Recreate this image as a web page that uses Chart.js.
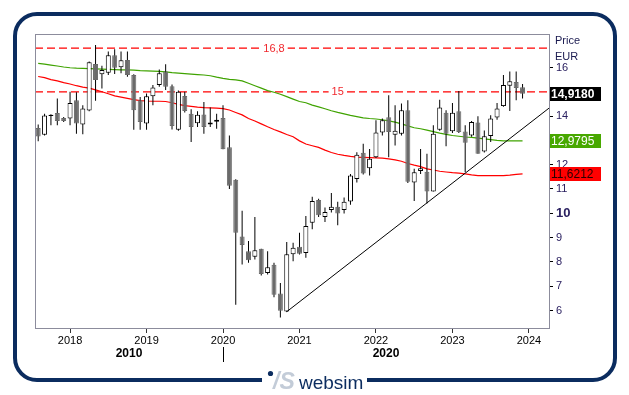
<!DOCTYPE html>
<html><head><meta charset="utf-8">
<script src="https://cdn.jsdelivr.net/npm/chart.js@4.4.1/dist/chart.umd.min.js"></script>
<style>html,body{margin:0;padding:0;background:#fff;overflow:hidden}canvas{display:block}</style>
</head><body><canvas id="c" width="629" height="395"></canvas>
<script>
// ---------- data ----------
const months = [
 '2017-08','2017-09','2017-10','2017-11','2017-12',
 '2018-01','2018-02','2018-03','2018-04','2018-05','2018-06','2018-07','2018-08','2018-09','2018-10','2018-11','2018-12',
 '2019-01','2019-02','2019-03','2019-04','2019-05','2019-06','2019-07','2019-08','2019-09','2019-10','2019-11','2019-12',
 '2020-01','2020-02','2020-03','2020-04','2020-05','2020-06','2020-07','2020-08','2020-09','2020-10','2020-11','2020-12',
 '2021-01','2021-02','2021-03','2021-04','2021-05','2021-06','2021-07','2021-08','2021-09','2021-10','2021-11','2021-12',
 '2022-01','2022-02','2022-03','2022-04','2022-05','2022-06','2022-07','2022-08','2022-09','2022-10','2022-11','2022-12',
 '2023-01','2023-02','2023-03','2023-04','2023-05','2023-06','2023-07','2023-08','2023-09','2023-10','2023-11','2023-12'
];
const openP = [
 13.51,13.23,14.00,14.13,13.92,
 13.90,14.65,13.65,14.23,16.14,15.72,15.78,16.50,16.01,16.31,15.69,14.65,
 13.69,14.82,15.28,15.83,15.23,13.44,14.83,14.10,13.71,14.07,13.65,13.77,
 13.92,12.72,11.38,9.04,8.44,8.21,8.54,7.54,7.88,6.70,5.96,8.31,
 8.62,8.37,9.61,10.55,9.85,10.14,10.27,10.13,10.48,11.41,12.49,11.85,
 12.31,13.32,13.95,13.23,13.27,14.24,11.27,11.74,11.71,10.90,13.44,14.14,
 13.38,14.20,13.37,13.20,13.74,12.54,13.18,13.94,14.41,15.25,15.40,15.19
];
const highP = [
 13.65,14.10,14.08,14.72,13.96,
 15.00,14.98,14.45,16.25,16.93,16.07,16.66,16.75,16.66,16.66,15.72,14.79,
 14.93,15.28,15.92,16.13,15.30,15.05,15.00,14.28,14.20,14.58,14.35,14.10,
 14.45,13.20,11.40,10.10,8.86,9.85,8.54,8.44,7.96,7.13,8.82,8.79,
 9.20,9.89,10.68,10.60,10.24,10.83,10.47,10.65,11.62,12.51,12.86,12.65,
 13.83,13.90,14.86,14.45,14.52,14.65,11.83,12.65,12.45,13.62,14.67,14.24,
 14.54,15.03,13.62,13.80,13.99,13.41,14.03,14.54,15.69,15.83,15.83,15.32
];
const lowP = [
 12.96,13.20,13.62,13.62,13.76,
 13.62,13.27,13.25,14.20,14.63,15.14,15.69,15.73,15.76,15.62,13.44,13.44,
 13.44,14.45,15.21,15.07,13.45,13.40,14.15,12.93,13.55,13.27,13.55,13.48,
 12.63,11.00,6.24,7.89,7.96,8.10,7.44,7.48,6.54,5.71,5.94,8.03,
 8.30,8.17,9.34,9.85,9.64,10.03,9.51,9.99,10.35,11.27,11.60,11.55,
 12.27,13.20,12.31,12.79,13.20,11.25,10.51,11.62,10.40,10.90,13.40,12.76,
 13.30,13.30,11.69,13.15,12.45,12.50,12.93,13.85,14.38,14.21,14.65,14.72
];
const closeP = [
 13.16,14.02,14.06,13.80,13.80,
 14.54,13.69,14.31,16.22,15.48,15.90,16.50,15.99,16.30,15.69,14.24,13.76,
 14.82,15.18,15.76,15.21,13.59,15.00,14.21,13.55,14.06,13.55,13.74,13.85,
 12.63,11.13,9.20,8.69,8.07,8.48,7.50,7.78,6.65,5.99,8.31,8.58,
 8.33,9.48,10.51,9.92,10.05,10.27,9.99,10.47,11.55,12.41,11.64,12.24,
 13.32,13.83,13.34,13.40,14.24,11.30,11.69,11.85,10.90,13.27,14.35,13.27,
 14.14,13.34,12.90,13.76,12.45,13.17,13.90,14.31,15.28,15.43,15.16,14.918
];
const maGreen = [
 16.17,16.14,16.10,16.06,16.02,
 15.99,15.97,15.96,15.95,15.94,15.93,15.92,15.91,15.90,15.90,15.89,15.87,
 15.86,15.85,15.84,15.82,15.79,15.77,15.75,15.73,15.71,15.69,15.66,15.60,
 15.55,15.51,15.49,15.45,15.35,15.25,15.15,15.05,14.98,14.90,14.80,14.70,
 14.60,14.55,14.45,14.38,14.30,14.22,14.15,14.09,14.03,13.98,13.93,13.90,
 13.88,13.85,13.80,13.75,13.68,13.60,13.52,13.48,13.42,13.36,13.30,13.25,
 13.20,13.17,13.14,13.12,13.09,13.06,13.03,13.00,12.98,12.98,12.98,12.9795
];
const maRed = [
 15.63,15.58,15.50,15.45,15.38,
 15.32,15.25,15.19,15.15,15.08,15.00,14.92,14.83,14.78,14.73,14.68,14.64,
 14.62,14.61,14.61,14.60,14.55,14.48,14.43,14.40,14.37,14.35,14.34,14.33,
 14.31,14.25,14.15,14.05,13.90,13.80,13.68,13.56,13.45,13.35,13.24,13.15,
 12.98,12.85,12.78,12.71,12.60,12.50,12.43,12.38,12.34,12.31,12.30,12.29,
 12.28,12.27,12.24,12.20,12.14,12.05,11.98,11.92,11.83,11.78,11.73,11.70,
 11.67,11.65,11.62,11.58,11.55,11.55,11.55,11.55,11.55,11.57,11.60,11.6212
];
const levelValues = [16.8, 15];
const levelLabels = ['16,8', '15'];
const levelLabelMonths = ['2020-09', '2021-07'];
const trendMonths = ['2020-11', '2024-05'];
const trendValues = [5.95, 14.50];
const yearLabels = ['2018','2019','2020','2021','2022','2023','2024'];
const decadeLabels = ['2010', '2020'];
const yTickValues = [6,7,8,9,10,11,12,14,16];

// ---------- helpers ----------
const FONT = "'Liberation Sans', Arial, sans-serif";
const toX = m => { const p = m.split('-').map(Number); return (p[0]-2018)*12 + (p[1]-1); };
const X_MIN = -5.5, X_MAX = 75.15, Y_MIN = 5.279, Y_MAX = 17.378;
const fmt = v => v.toFixed(4).replace('.', ',');

const wickData = months.map((m,i)=>({x:toX(m), y:[lowP[i], highP[i]]}));
const bodyData = months.map((m,i)=>({x:toX(m), y:[openP[i], closeP[i]]}));
const isUp = closeP.map((c,i)=> c >= openP[i]);

const decor = {
  id: 'decor',
  beforeDraw(chart) {
    const ctx = chart.ctx;
    ctx.save(); ctx.fillStyle = '#fff'; ctx.fillRect(0,0,chart.width,chart.height); ctx.restore();
  },
  afterDraw(chart) {
    const ctx = chart.ctx, xs = chart.scales.x, ys = chart.scales.y, a = chart.chartArea;
    ctx.save();
    // plot border
    ctx.strokeStyle = '#8c8c9c'; ctx.lineWidth = 1;
    ctx.strokeRect(Math.round(a.left)+0.5, Math.round(a.top)+0.5, Math.round(a.right-a.left), Math.round(a.bottom-a.top));
    // level labels
    ctx.font = '11px ' + FONT; ctx.textAlign = 'center'; ctx.textBaseline = 'middle';
    levelValues.forEach((v,i)=>{
      const x = xs.getPixelForValue(toX(levelLabelMonths[i])), y = ys.getPixelForValue(v);
      const w = ctx.measureText(levelLabels[i]).width + 6;
      ctx.fillStyle = '#fff'; ctx.fillRect(x - w/2, y - 6, w, 12);
      ctx.fillStyle = '#f0282d'; ctx.fillText(levelLabels[i], x, y + 0.5);
    });
    // header
    ctx.textAlign = 'left'; ctx.fillStyle = '#1a1a50'; ctx.font = '11px ' + FONT;
    ctx.fillText('Price', a.right + 6, a.top + 7);
    ctx.fillText('EUR', a.right + 6, a.top + 23);
    // last value boxes
    const boxes = [
      {v: closeP[closeP.length-1], bg:'#000', fg:'#fff', font:'bold 12px '},
      {v: maGreen[maGreen.length-1], bg:'#48a800', fg:'#fff', font:'12px '},
      {v: maRed[maRed.length-1], bg:'#ff0000', fg:'#2a0000', font:'12px '}
    ];
    boxes.forEach(b=>{
      const y = Math.round(ys.getPixelForValue(b.v));
      ctx.fillStyle = b.bg; ctx.fillRect(a.right + 1, y - 7, 51, 14);
      ctx.fillStyle = b.fg; ctx.font = b.font + FONT; ctx.textBaseline = 'middle';
      ctx.fillText(fmt(b.v), a.right + 2, y + 0.5);
    });
    // decade labels
    const bound = toX('2020-01');
    ctx.fillStyle = '#000'; ctx.font = 'bold 12px ' + FONT; ctx.textAlign = 'center';
    ctx.fillText(decadeLabels[0], xs.getPixelForValue((X_MIN + bound)/2), 354);
    ctx.fillText(decadeLabels[1], xs.getPixelForValue((bound + X_MAX)/2), 354);
    const bx = Math.round(xs.getPixelForValue(bound)) + 0.5;
    ctx.strokeStyle = '#000'; ctx.beginPath(); ctx.moveTo(bx, 347); ctx.lineTo(bx, 362); ctx.stroke();
    // frame
    const fx = 15, fy = 14, fw = 600, fh = 366, r = 22;
    ctx.strokeStyle = '#0b2c5f'; ctx.lineWidth = 4;
    ctx.beginPath();
    ctx.moveTo(fx + r, fy); ctx.lineTo(fx + fw - r, fy); ctx.arcTo(fx+fw, fy, fx+fw, fy+r, r);
    ctx.lineTo(fx+fw, fy+fh-r); ctx.arcTo(fx+fw, fy+fh, fx+fw-r, fy+fh, r);
    ctx.lineTo(fx + r, fy+fh); ctx.arcTo(fx, fy+fh, fx, fy+fh-r, r);
    ctx.lineTo(fx, fy + r); ctx.arcTo(fx, fy, fx + r, fy, r); ctx.closePath(); ctx.stroke();
    ctx.fillStyle = '#fff'; ctx.fillRect(262, fy+fh-4, 105, 8);
    // logo
    ctx.fillStyle = '#0b2c5f'; ctx.beginPath(); ctx.arc(270.5, 373.5, 2.6, 0, Math.PI*2); ctx.fill();
    ctx.fillStyle = '#c3ccd8'; ctx.font = 'italic bold 23px ' + FONT; ctx.textAlign = 'left'; ctx.textBaseline = 'alphabetic';
    ctx.fillText('/S', 273, 389);
    ctx.fillStyle = '#0b2c5f'; ctx.font = '19px ' + FONT;
    ctx.fillText('websim', 299, 389);
    ctx.restore();
  }
};

new Chart(document.getElementById('c'), {
  type: 'bar',
  data: {
    datasets: [
      { type:'bar', label:'body', data: bodyData, order: 1, grouped:false, barThickness:5,
        backgroundColor: isUp.map(u=> u ? '#ffffff' : '#6a6a6a'),
        borderColor: isUp.map(u=> u ? '#000000' : '#6a6a6a'),
        borderWidth: 1, borderSkipped: false, inflateAmount: 0 },
      { type:'bar', label:'wick', data: wickData, order: 2, grouped:false, barThickness:1,
        backgroundColor:'#000', borderWidth:0, inflateAmount: 0 },
      { type:'line', label:'trend', data: trendMonths.map((m,i)=>({x:toX(m), y:trendValues[i]})), order: 0,
        borderColor:'#000', borderWidth:1, pointRadius:0 },
      { type:'line', label:'ma1', data: months.map((m,i)=>({x:toX(m), y:maGreen[i]})), order: 3,
        borderColor:'#3fa300', borderWidth:1.2, pointRadius:0, tension:0 },
      { type:'line', label:'ma2', data: months.map((m,i)=>({x:toX(m), y:maRed[i]})), order: 3,
        borderColor:'#ff0000', borderWidth:1.2, pointRadius:0, tension:0 },
      ...levelValues.map(v=>({ type:'line', label:'lvl', data:[{x:X_MIN,y:v},{x:X_MAX,y:v}], order: 4,
        borderColor:'#ff0000', borderWidth:1.2, borderDash:[8,4], pointRadius:0 }))
    ]
  },
  options: {
    responsive:false, animation:false, devicePixelRatio:1,
    layout:{ padding:{ left:35, top:34, right:0, bottom:0 } },
    plugins:{ legend:{display:false}, tooltip:{enabled:false} },
    scales:{
      x:{ type:'linear', min:X_MIN, max:X_MAX, offset:false,
        afterBuildTicks: s => { s.ticks = yearLabels.map(y=>({value: toX(y+'-01')})); },
        afterFit: s => { s.height = 67; },
        ticks:{ autoSkip:false, maxRotation:0, padding:1, color:'#000', font:{family:FONT, size:11},
          callback: (v,i) => yearLabels[i] },
        grid:{ offset:false, drawOnChartArea:false, tickLength:5, tickColor:'#333', color:'#333' },
        border:{ display:true, color:'#8c8c9c' } },
      y:{ type:'linear', position:'right', min:Y_MIN, max:Y_MAX,
        afterBuildTicks: s => { s.ticks = yTickValues.map(v=>({value:v})); },
        afterFit: s => { s.width = 80; },
        ticks:{ autoSkip:false, padding:3, color:'#2a2060',
          font: c => ({family:FONT, size: (c.tick && c.tick.value===10) ? 13 : 11, weight: (c.tick && c.tick.value===10) ? 'bold' : 'normal'}),
          callback: v => String(v) },
        grid:{ drawOnChartArea:false, tickLength:4, tickColor:'#000', color:'#000' },
        border:{ display:true, color:'#8c8c9c' } }
    }
  },
  plugins:[decor]
});
</script>
</body></html>
